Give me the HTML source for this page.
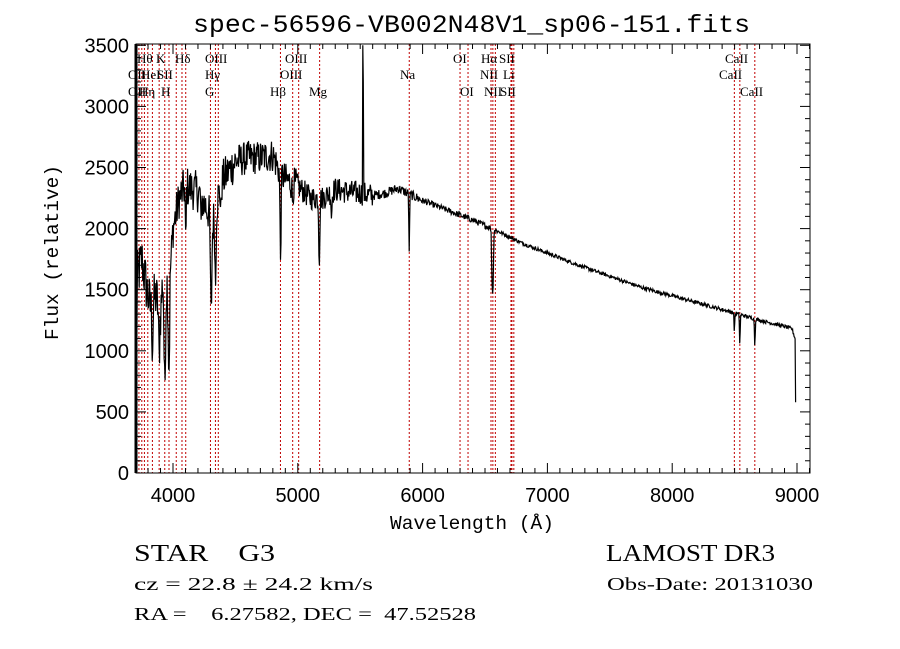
<!DOCTYPE html>
<html><head><meta charset="utf-8"><style>
body{margin:0;background:#fff;}
svg{display:block;font-family:"Liberation Sans",sans-serif;}
</style></head><body>
<svg id="c" width="900" height="649" viewBox="0 0 900 649" xmlns="http://www.w3.org/2000/svg">
<rect width="900" height="649" fill="#fff"/>
<text x="193" y="32" font-size="25" textLength="557" lengthAdjust="spacingAndGlyphs" style="font-family:'Liberation Mono',monospace">spec-56596-VB002N48V1_sp06-151.fits</text>
<g id="lines"></g>
<path id="spec" fill="none" stroke="#000" stroke-width="1.2"/>
<rect x="136" y="44" width="674" height="429" fill="none" stroke="#000" stroke-width="1"/>
<line x1="136" y1="44" x2="136" y2="473" stroke="#000" stroke-width="3"/>
<g id="ticks" stroke="#000" stroke-width="1"></g>
<g id="labs" font-size="20" fill="#000"></g>
<text x="390" y="529" font-size="19" textLength="164" lengthAdjust="spacingAndGlyphs" style="font-family:'Liberation Mono',monospace">Wavelength (Å)</text>
<text transform="translate(58,340) rotate(-90)" font-size="19" textLength="175" lengthAdjust="spacingAndGlyphs" style="font-family:'Liberation Mono',monospace">Flux (relative)</text>
<text x="134" y="561" font-size="24" textLength="141" lengthAdjust="spacingAndGlyphs" style="font-family:'Liberation Serif',serif" xml:space="preserve">STAR    G3</text>
<text x="606" y="561" font-size="24" textLength="169" lengthAdjust="spacingAndGlyphs" style="font-family:'Liberation Serif',serif">LAMOST DR3</text>
<text x="134" y="590" font-size="18" textLength="239" lengthAdjust="spacingAndGlyphs" style="font-family:'Liberation Serif',serif">cz = 22.8 ± 24.2 km/s</text>
<text x="607" y="590" font-size="18" textLength="206" lengthAdjust="spacingAndGlyphs" style="font-family:'Liberation Serif',serif">Obs-Date: 20131030</text>
<text x="134" y="620" font-size="18" textLength="342" lengthAdjust="spacingAndGlyphs" style="font-family:'Liberation Serif',serif" xml:space="preserve">RA =    6.27582, DEC =  47.52528</text>
</svg>
<script>
var NS="http://www.w3.org/2000/svg";
function X(l){return 173+(l-4000)*0.1248;}
function Y(f){return 473-f*0.1222;}
function el(p,t,a,txt){var e=document.createElementNS(NS,t);for(var k in a)e.setAttribute(k,a[k]);if(txt)e.textContent=txt;document.getElementById(p).appendChild(e);return e;}
for(var l=3800;l<=9100;l+=100){var x=X(l);var maj=(l%1000==0);var h=maj?10:5;
el("ticks","line",{x1:x,y1:473,x2:x,y2:473-h});el("ticks","line",{x1:x,y1:44,x2:x,y2:44+h});
if(maj)el("labs","text",{x:x,y:502,"text-anchor":"middle"},""+l);}
for(var f=0;f<=3500;f+=100){var y=Y(f);var maj=(f%500==0);var h=maj?10:5;
el("ticks","line",{x1:136,y1:y,x2:136+h,y2:y});el("ticks","line",{x1:810,y1:y,x2:810-h,y2:y});
if(maj)el("labs","text",{x:129,y:y+7,"text-anchor":"end"},""+f);}
var L=[3727,3750,3771,3798,3835,3889,3934,3968,4026,4072,4102,4300,4340,4363,4861,4959,5007,5175,5893,6300,6364,6548,6563,6583,6708,6716,6731,8498,8542,8662];
L.forEach(function(l){var x=X(l);el("lines","line",{x1:x,y1:44,x2:x,y2:473,stroke:"#c00000","stroke-width":1,"stroke-dasharray":"2,2"});});
var T=[[137,63,"Hθ"],[156,63,"K"],[175,63,"Hδ"],[205,63,"OIII"],[285,63,"OIII"],[453,63,"OI"],[481,63,"Hα"],[499,63,"SII"],[725,63,"CaII"],
[128,79,"OII"],[141,79,"HeI"],[157,79,"SII"],[205,79,"Hγ"],[280,79,"OIII"],[400,79,"Na"],[480,79,"NII"],[503,79,"Li"],[719,79,"CaII"],
[128,96,"OII"],[139,96,"Hη"],[161,96,"H"],[205,96,"G"],[270,96,"Hβ"],[309,96,"Mg"],[460,96,"OI"],[484,96,"NII"],[500,96,"SII"],[740,96,"CaII"]];
T.forEach(function(t){el("lines","text",{x:t[0],y:t[1],"font-size":13,"font-family":"Liberation Serif,serif"},t[2]);});
var K=[[3705,0],[3708,900],[3715,1600],[3750,1750],[3790,1500],[3820,1350],[3860,1450],[3900,1300],[3920,1600],[3950,1550],[3990,1800],[4000,2000],[4050,2250],[4100,2350],[4200,2300],[4280,2150],[4320,2050],[4360,2250],[4400,2400],[4500,2550],[4600,2580],[4700,2580],[4800,2600],[4840,2500],[4900,2400],[5000,2350],[5100,2250],[5200,2250],[5300,2320],[5400,2300],[5500,2290],[5600,2270],[5700,2290],[5800,2330],[5900,2280],[6000,2230],[6200,2150],[6400,2070],[6600,1980],[6800,1880],[7000,1800],[7250,1700],[7500,1610],[7750,1520],[8000,1450],[8250,1380],[8500,1310],[8700,1250],[8900,1200],[8960,1180],[8985,1100],[8992,200]];
var D=[[3934,900,8],[3968,800,8],[3889,400,6],[3835,350,6],[4102,500,5],[4305,800,8],[4340,600,6],[4861,700,6],[5172,500,6],[5893,500,4],[6563,550,6],[6555,300,4],[8498,150,4],[8542,250,4],[8662,230,4],[4227,300,4],[4384,250,4],[4958,150,5],[5270,200,5]];
function cont(l){for(var i=0;i<K.length-1;i++){if(l>=K[i][0]&&l<=K[i+1][0]){var t=(l-K[i][0])/(K[i+1][0]-K[i][0]);return K[i][1]+t*(K[i+1][1]-K[i][1]);}}return 0;}
var seed=12345;function rnd(){seed=(seed*1103515245+12345)%2147483648;return seed/2147483648;}
var d="";for(var l=3705;l<=8992;l+=4){var f=cont(l);
var amp=l<4000?220:l<4500?170:l<5000?140:l<5600?100:l<6000?40:l<6600?25:15;
f+=(rnd()-0.5)*2*amp;
D.forEach(function(q){var z=(l-q[0])/q[2];f-=q[1]*Math.exp(-z*z);});
if(Math.abs(l-5522)<2.5)f=3500;else if(Math.abs(l-5522)<5)f=3200;
if(f<0)f=0;d+=(d?"L":"M")+X(l).toFixed(1)+","+Y(f).toFixed(1);}
document.getElementById("spec").setAttribute("d",d);
</script>
</body></html>
